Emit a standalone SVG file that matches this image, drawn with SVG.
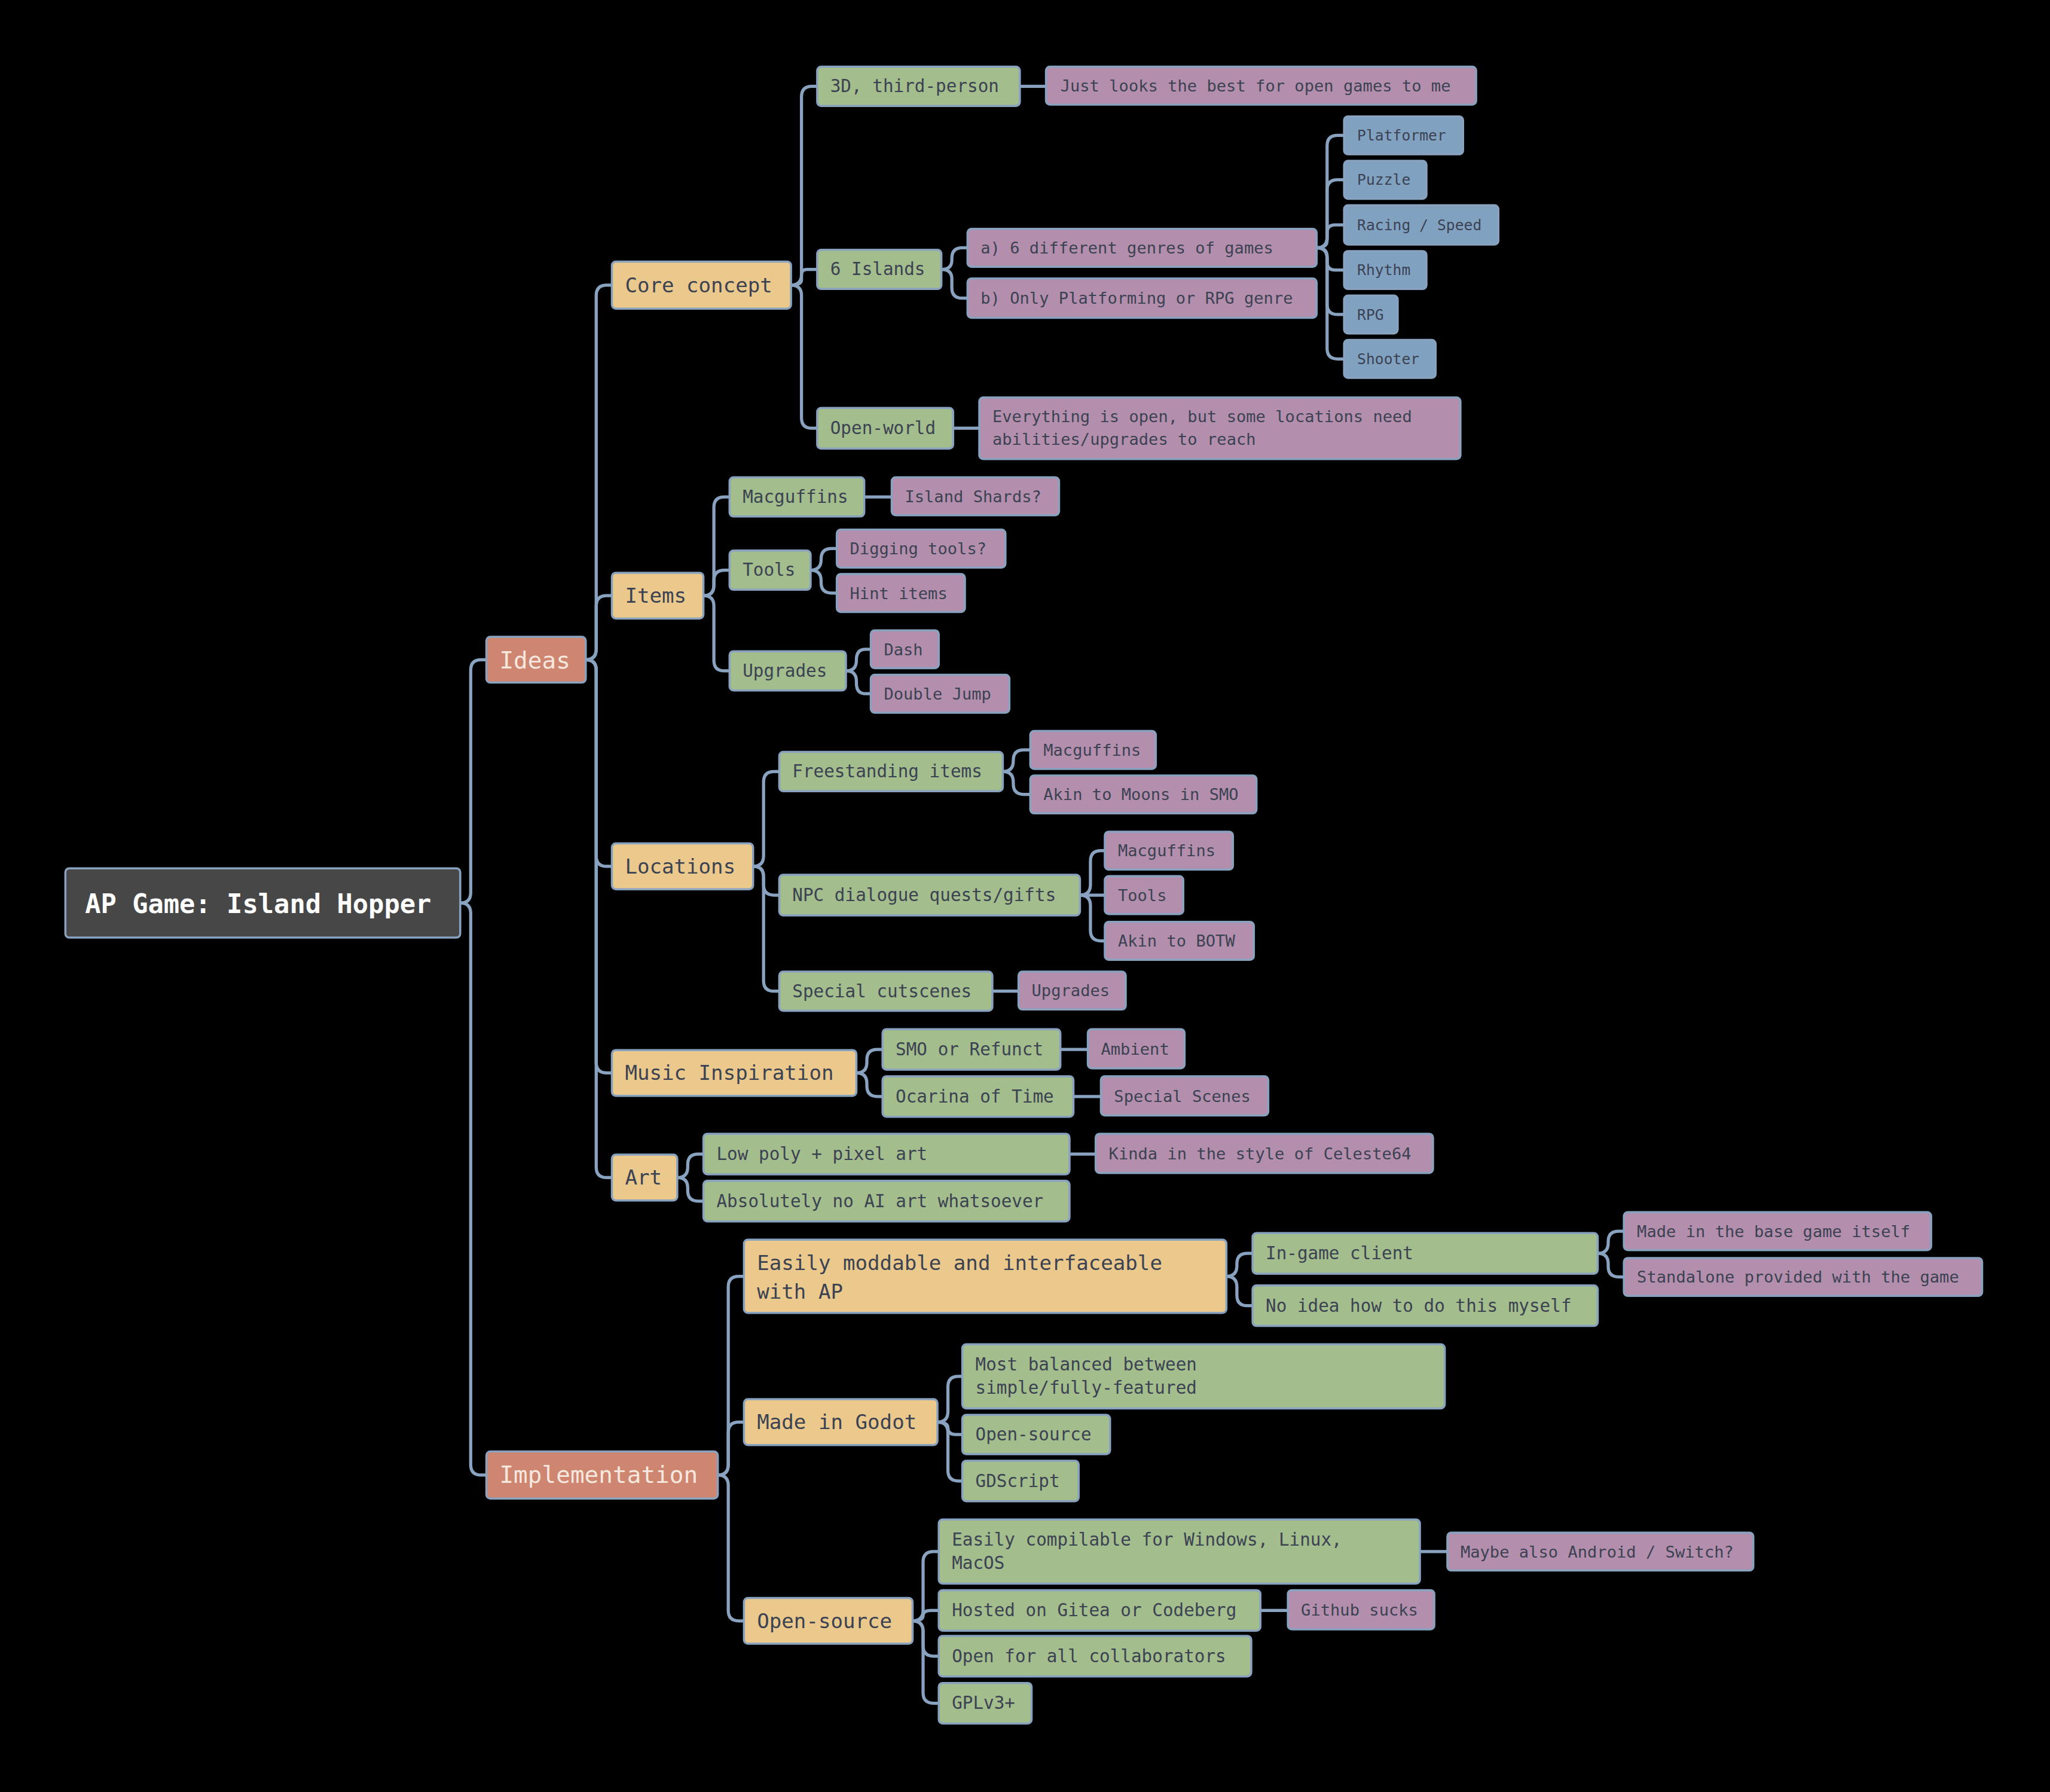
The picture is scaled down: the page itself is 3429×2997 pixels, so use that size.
<svg xmlns="http://www.w3.org/2000/svg" width="3429" height="2997" viewBox="0 0 3429 2997">
<style>
rect{stroke:#88a2bf;stroke-width:1.6}
text{font-family:"DejaVu Sans Mono","Liberation Mono",monospace;fill:#3b4252}
.k rect{fill:#474747}.k text{fill:#ffffff;font-size:20px;font-weight:bold}
.r rect{fill:#cf8670}.r text{fill:#f6e8df;font-size:18px}
.y rect{fill:#ebc98c}.y text{font-size:15.6px}
.g rect{fill:#a3bd8c}.g text{font-size:13.4px}
.p rect{fill:#b48ead}.p text{font-size:12.4px}
.b rect{fill:#81a1c1}.b text{font-size:11.3px}
#edges path{fill:none;stroke:#88a2bf;stroke-width:2.4}
</style>
<rect width="3429" height="2997" fill="#000" style="stroke:none"/>
<g transform="scale(2.187)">
<g id="edges">
<path d="M352 690.5 Q360 690.5 360 682.5 V512.5 Q360 504.5 368 504.5 H372"/>
<path d="M352 690.5 Q360 690.5 360 698.5 V1120 Q360 1128 368 1128 H372"/>
<path d="M448 504.5 Q456 504.5 456 496.5 V226 Q456 218 464 218 H468"/>
<path d="M448 504.5 Q456 504.5 456 496.5 V463.5 Q456 455.5 464 455.5 H468"/>
<path d="M448 504.5 Q456 504.5 456 512.5 V654.5 Q456 662.5 464 662.5 H468"/>
<path d="M448 504.5 Q456 504.5 456 512.5 V812.5 Q456 820.5 464 820.5 H468"/>
<path d="M448 504.5 Q456 504.5 456 512.5 V892.5 Q456 900.5 464 900.5 H468"/>
<path d="M549 1128 Q557 1128 557 1120 V984 Q557 976 565 976 H569"/>
<path d="M549 1128 Q557 1128 557 1120 V1095.5 Q557 1087.5 565 1087.5 H569"/>
<path d="M549 1128 Q557 1128 557 1136 V1231.5 Q557 1239.5 565 1239.5 H569"/>
<path d="M605 218 Q613 218 613 210 V74 Q613 66 621 66 H625"/>
<path d="M605 218 Q613 218 613 214 V210 Q613 206 617 206 H625"/>
<path d="M605 218 Q613 218 613 226 V319.5 Q613 327.5 621 327.5 H625"/>
<path d="M720 206 Q728 206 728 199 V197.5 Q728 189.5 736 189.5 H740"/>
<path d="M720 206 Q728 206 728 213 V220 Q728 228 736 228 H740"/>
<path d="M1007 189.5 Q1015 189.5 1015 181.5 V111.5 Q1015 103.5 1023 103.5 H1028"/>
<path d="M1007 189.5 Q1015 189.5 1015 181.5 V145.5 Q1015 137.5 1023 137.5 H1028"/>
<path d="M1007 189.5 Q1015 189.5 1015 184 V178 Q1015 172 1021 172 H1028"/>
<path d="M1007 189.5 Q1015 189.5 1015 196 V200.5 Q1015 206.5 1021 206.5 H1028"/>
<path d="M1007 189.5 Q1015 189.5 1015 197.5 V232.5 Q1015 240.5 1023 240.5 H1028"/>
<path d="M1007 189.5 Q1015 189.5 1015 197.5 V266.5 Q1015 274.5 1023 274.5 H1028"/>
<path d="M780 66 H800"/>
<path d="M729 327.5 H749"/>
<path d="M538 455.5 Q546 455.5 546 447.5 V388 Q546 380 554 380 H558"/>
<path d="M538 455.5 Q546 455.5 546 447.5 V444 Q546 436 554 436 H558"/>
<path d="M538 455.5 Q546 455.5 546 463.5 V505 Q546 513 554 513 H558"/>
<path d="M661 380 H682"/>
<path d="M620 436 Q628 436 628 428 V427.5 Q628 419.5 636 419.5 H640"/>
<path d="M620 436 Q628 436 628 444 V445.5 Q628 453.5 636 453.5 H640"/>
<path d="M647 513 Q655 513 655 505 V504.5 Q655 496.5 662 496.5 H666"/>
<path d="M647 513 Q655 513 655 521 V522.5 Q655 530.5 662 530.5 H666"/>
<path d="M576 662.5 Q584 662.5 584 654.5 V598 Q584 590 592 590 H596"/>
<path d="M576 662.5 Q584 662.5 584 670.5 V676.5 Q584 684.5 592 684.5 H596"/>
<path d="M576 662.5 Q584 662.5 584 670.5 V750 Q584 758 592 758 H596"/>
<path d="M767 590 Q775 590 775 582 V581.5 Q775 573.5 783 573.5 H788"/>
<path d="M767 590 Q775 590 775 598 V599.5 Q775 607.5 783 607.5 H788"/>
<path d="M826 684.5 Q834 684.5 834 676.5 V658.5 Q834 650.5 842 650.5 H845"/>
<path d="M826 684.5 H845"/>
<path d="M826 684.5 Q834 684.5 834 692.5 V711.5 Q834 719.5 842 719.5 H845"/>
<path d="M759 758 H779"/>
<path d="M655 820.5 Q663 820.5 663 812.5 V810.5 Q663 802.5 671 802.5 H675"/>
<path d="M655 820.5 Q663 820.5 663 828.5 V830.5 Q663 838.5 671 838.5 H675"/>
<path d="M811 802.5 H832"/>
<path d="M821 838.5 H842"/>
<path d="M518 900.5 Q526 900.5 526 892.5 V890.5 Q526 882.5 534 882.5 H538"/>
<path d="M518 900.5 Q526 900.5 526 908.5 V910.5 Q526 918.5 534 918.5 H538"/>
<path d="M818 882.5 H838"/>
<path d="M938 976 Q946 976 946 968 V966.5 Q946 958.5 954 958.5 H958"/>
<path d="M938 976 Q946 976 946 984 V990.5 Q946 998.5 954 998.5 H958"/>
<path d="M1222 958.5 Q1230 958.5 1230 950.5 V949.5 Q1230 941.5 1238 941.5 H1242"/>
<path d="M1222 958.5 Q1230 958.5 1230 966.5 V968.5 Q1230 976.5 1238 976.5 H1242"/>
<path d="M717 1087.5 Q725 1087.5 725 1079.5 V1060.5 Q725 1052.5 733 1052.5 H736"/>
<path d="M717 1087.5 Q725 1087.5 725 1092 V1092 Q725 1097 731 1097 H736"/>
<path d="M717 1087.5 Q725 1087.5 725 1095.5 V1124.5 Q725 1132.5 733 1132.5 H736"/>
<path d="M698 1239.5 Q706 1239.5 706 1231.5 V1194.5 Q706 1186.5 714 1186.5 H718"/>
<path d="M698 1239.5 Q706 1239.5 706 1235.5 V1235.5 Q706 1231.5 712 1231.5 H718"/>
<path d="M698 1239.5 Q706 1239.5 706 1247.5 V1258.5 Q706 1266.5 714 1266.5 H718"/>
<path d="M698 1239.5 Q706 1239.5 706 1247.5 V1294.5 Q706 1302.5 714 1302.5 H718"/>
<path d="M1086 1186.5 H1107"/>
<path d="M964 1231.5 H985"/>
</g>
<g id="root" class="k"><rect x="50" y="664" width="302" height="53" rx="3"/><text x="65" y="698">AP Game: Island Hopper</text></g>
<g id="ideas" class="r"><rect x="372" y="487" width="76" height="35" rx="3"/><text x="382" y="511">Ideas</text></g>
<g id="impl" class="r"><rect x="372" y="1110" width="177" height="36" rx="3"/><text x="382" y="1134">Implementation</text></g>
<g id="core" class="y"><rect x="468" y="200" width="137" height="36" rx="3"/><text x="478" y="223.5">Core concept</text></g>
<g id="items" class="y"><rect x="468" y="438" width="70" height="35" rx="3"/><text x="478" y="461">Items</text></g>
<g id="locations" class="y"><rect x="468" y="645" width="108" height="35" rx="3"/><text x="478" y="668">Locations</text></g>
<g id="music" class="y"><rect x="468" y="803" width="187" height="35" rx="3"/><text x="478" y="826">Music Inspiration</text></g>
<g id="art" class="y"><rect x="468" y="883" width="50" height="35" rx="3"/><text x="478" y="906">Art</text></g>
<g id="moddable" class="y"><rect x="569" y="948" width="369" height="56" rx="3"/><text x="579" y="971">Easily moddable and interfaceable</text><text x="579" y="993">with AP</text></g>
<g id="godot" class="y"><rect x="569" y="1070" width="148" height="35" rx="3"/><text x="579" y="1093">Made in Godot</text></g>
<g id="opensrc" class="y"><rect x="569" y="1222" width="129" height="35" rx="3"/><text x="579" y="1245">Open-source</text></g>
<g id="g3d" class="g"><rect x="625" y="51" width="155" height="30" rx="3"/><text x="635" y="70.5">3D, third-person</text></g>
<g id="islands" class="g"><rect x="625" y="191" width="95" height="30" rx="3"/><text x="635" y="210.5">6 Islands</text></g>
<g id="openworld" class="g"><rect x="625" y="312" width="104" height="31" rx="3"/><text x="635" y="332">Open-world</text></g>
<g id="macg" class="g"><rect x="558" y="365" width="103" height="30" rx="3"/><text x="568" y="384.5">Macguffins</text></g>
<g id="tools" class="g"><rect x="558" y="421" width="62" height="30" rx="3"/><text x="568" y="440.5">Tools</text></g>
<g id="upgr" class="g"><rect x="558" y="498" width="89" height="30" rx="3"/><text x="568" y="517.5">Upgrades</text></g>
<g id="free" class="g"><rect x="596" y="575" width="171" height="30" rx="3"/><text x="606" y="594.5">Freestanding items</text></g>
<g id="npc" class="g"><rect x="596" y="669" width="230" height="31" rx="3"/><text x="606" y="689">NPC dialogue quests/gifts</text></g>
<g id="cuts" class="g"><rect x="596" y="743" width="163" height="30" rx="3"/><text x="606" y="762.5">Special cutscenes</text></g>
<g id="smo" class="g"><rect x="675" y="787" width="136" height="31" rx="3"/><text x="685" y="807">SMO or Refunct</text></g>
<g id="oot" class="g"><rect x="675" y="823" width="146" height="31" rx="3"/><text x="685" y="843">Ocarina of Time</text></g>
<g id="lowpoly" class="g"><rect x="538" y="867" width="280" height="31" rx="3"/><text x="548" y="887">Low poly + pixel art</text></g>
<g id="noai" class="g"><rect x="538" y="903" width="280" height="31" rx="3"/><text x="548" y="923">Absolutely no AI art whatsoever</text></g>
<g id="ingame" class="g"><rect x="958" y="943" width="264" height="31" rx="3"/><text x="968" y="963">In-game client</text></g>
<g id="noidea" class="g"><rect x="958" y="983" width="264" height="31" rx="3"/><text x="968" y="1003">No idea how to do this myself</text></g>
<g id="balanced" class="g"><rect x="736" y="1028" width="369" height="49" rx="3"/><text x="746" y="1048">Most balanced between</text><text x="746" y="1066">simple/fully-featured</text></g>
<g id="os2" class="g"><rect x="736" y="1082" width="113" height="30" rx="3"/><text x="746" y="1101.5">Open-source</text></g>
<g id="gds" class="g"><rect x="736" y="1117" width="89" height="31" rx="3"/><text x="746" y="1137">GDScript</text></g>
<g id="compil" class="g"><rect x="718" y="1162" width="368" height="49" rx="3"/><text x="728" y="1182">Easily compilable for Windows, Linux,</text><text x="728" y="1200">MacOS</text></g>
<g id="gitea" class="g"><rect x="718" y="1216" width="246" height="31" rx="3"/><text x="728" y="1236">Hosted on Gitea or Codeberg</text></g>
<g id="collab" class="g"><rect x="718" y="1251" width="239" height="31" rx="3"/><text x="728" y="1271">Open for all collaborators</text></g>
<g id="gpl" class="g"><rect x="718" y="1287" width="71" height="31" rx="3"/><text x="728" y="1307">GPLv3+</text></g>
<g id="looks" class="p"><rect x="800" y="51" width="329" height="29" rx="3"/><text x="811" y="70">Just looks the best for open games to me</text></g>
<g id="genA" class="p"><rect x="740" y="175" width="267" height="29" rx="3"/><text x="750" y="194">a) 6 different genres of games</text></g>
<g id="genB" class="p"><rect x="740" y="213" width="267" height="30" rx="3"/><text x="750" y="232.5">b) Only Platforming or RPG genre</text></g>
<g id="everything" class="p"><rect x="749" y="304" width="368" height="47" rx="3"/><text x="759" y="323">Everything is open, but some locations need</text><text x="759" y="340">abilities/upgrades to reach</text></g>
<g id="shards" class="p"><rect x="682" y="365" width="128" height="29" rx="3"/><text x="692" y="384">Island Shards?</text></g>
<g id="dig" class="p"><rect x="640" y="405" width="129" height="29" rx="3"/><text x="650" y="424">Digging tools?</text></g>
<g id="hint" class="p"><rect x="640" y="439" width="98" height="29" rx="3"/><text x="650" y="458">Hint items</text></g>
<g id="dash" class="p"><rect x="666" y="482" width="52" height="29" rx="3"/><text x="676" y="501">Dash</text></g>
<g id="djump" class="p"><rect x="666" y="516" width="106" height="29" rx="3"/><text x="676" y="535">Double Jump</text></g>
<g id="fmac" class="p"><rect x="788" y="559" width="96" height="29" rx="3"/><text x="798" y="578">Macguffins</text></g>
<g id="moons" class="p"><rect x="788" y="593" width="173" height="29" rx="3"/><text x="798" y="612">Akin to Moons in SMO</text></g>
<g id="nmac" class="p"><rect x="845" y="636" width="98" height="29" rx="3"/><text x="855" y="655">Macguffins</text></g>
<g id="ntools" class="p"><rect x="845" y="670" width="60" height="29" rx="3"/><text x="855" y="689">Tools</text></g>
<g id="botw" class="p"><rect x="845" y="705" width="114" height="29" rx="3"/><text x="855" y="724">Akin to BOTW</text></g>
<g id="cupg" class="p"><rect x="779" y="743" width="82" height="29" rx="3"/><text x="789" y="762">Upgrades</text></g>
<g id="ambient" class="p"><rect x="832" y="787" width="74" height="30" rx="3"/><text x="842" y="806.5">Ambient</text></g>
<g id="specsc" class="p"><rect x="842" y="823" width="128" height="30" rx="3"/><text x="852" y="842.5">Special Scenes</text></g>
<g id="celeste" class="p"><rect x="838" y="867" width="258" height="30" rx="3"/><text x="848" y="886.5">Kinda in the style of Celeste64</text></g>
<g id="basegame" class="p"><rect x="1242" y="927" width="235" height="29" rx="3"/><text x="1252" y="946">Made in the base game itself</text></g>
<g id="standalone" class="p"><rect x="1242" y="962" width="274" height="29" rx="3"/><text x="1252" y="981">Standalone provided with the game</text></g>
<g id="android" class="p"><rect x="1107" y="1172" width="234" height="29" rx="3"/><text x="1117" y="1191">Maybe also Android / Switch?</text></g>
<g id="github" class="p"><rect x="985" y="1216" width="112" height="30" rx="3"/><text x="995" y="1235.5">Github sucks</text></g>
<g id="platformer" class="b"><rect x="1028" y="89" width="91" height="29" rx="3"/><text x="1038" y="107.5">Platformer</text></g>
<g id="puzzle" class="b"><rect x="1028" y="123" width="63" height="29" rx="3"/><text x="1038" y="141.5">Puzzle</text></g>
<g id="racing" class="b"><rect x="1028" y="157" width="118" height="30" rx="3"/><text x="1038" y="176">Racing / Speed</text></g>
<g id="rhythm" class="b"><rect x="1028" y="192" width="63" height="29" rx="3"/><text x="1038" y="210.5">Rhythm</text></g>
<g id="rpg" class="b"><rect x="1028" y="226" width="41" height="29" rx="3"/><text x="1038" y="244.5">RPG</text></g>
<g id="shooter" class="b"><rect x="1028" y="260" width="70" height="29" rx="3"/><text x="1038" y="278.5">Shooter</text></g>
</g>
</svg>
